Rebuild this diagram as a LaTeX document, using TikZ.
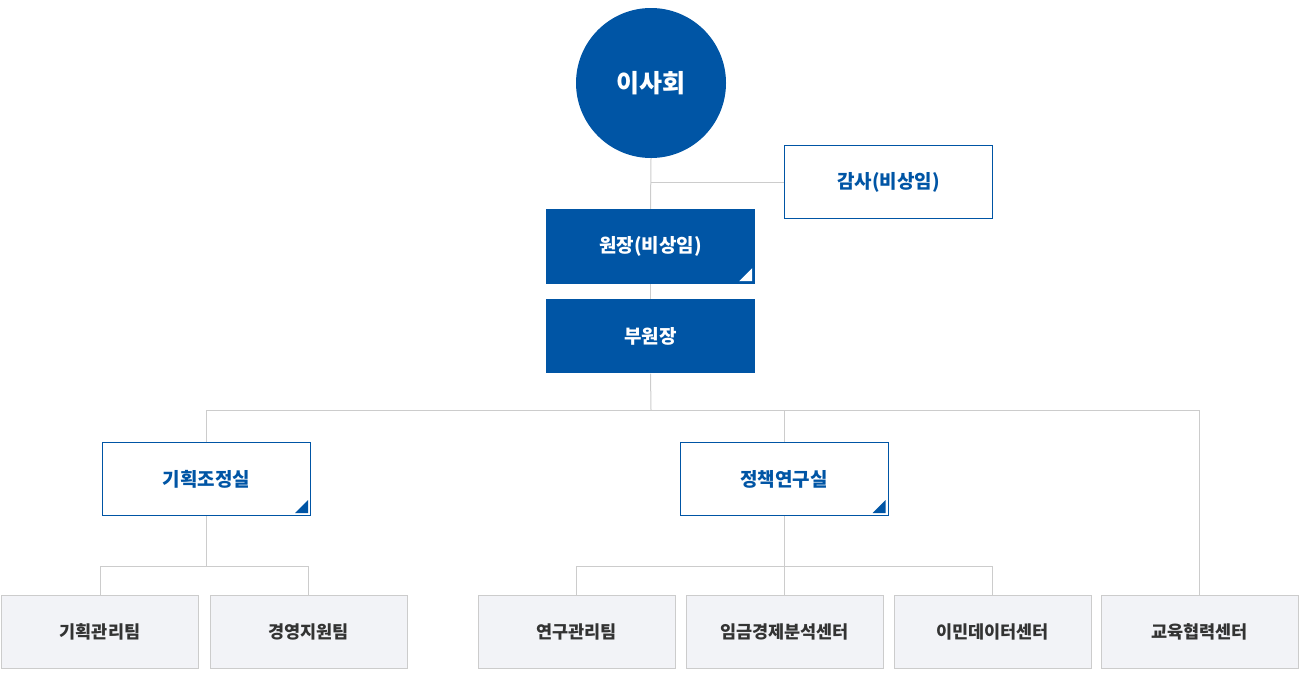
\documentclass[tikz,border=0pt]{standalone}
\usepackage{fontspec}
\setmainfont{Noto Sans CJK KR}
\usepackage{tikz}
\usetikzlibrary{positioning}

\definecolor{orgblue}{RGB}{0,85,165}
\definecolor{linegray}{RGB}{204,204,204}
\definecolor{teamfill}{RGB}{242,243,247}
\definecolor{teamtext}{RGB}{51,51,51}

% small corner triangle inside a box
\newcommand{\cornermark}[2]{%
  \fill[#2] ([shift={(-3pt,3pt)}]#1.south east) -- ++(-13pt,0pt) -- ++(13pt,13pt) -- cycle;}

\begin{document}
\begin{tikzpicture}[x=1pt, y=-1pt,
            board/.style={circle, fill=orgblue, minimum size=150pt, inner sep=0pt, text=white, font=\bfseries\fontsize{25}{30}\selectfont},
            exec/.style={rectangle, fill=orgblue, minimum width=209pt, minimum height=75pt, inner sep=0pt, text=white, font=\bfseries\fontsize{19}{23}\selectfont},
            office/.style={rectangle, draw=orgblue, fill=white, line width=1pt, minimum width=208pt, minimum height=73pt, inner sep=0pt, text=orgblue, font=\bfseries\fontsize{19}{23}\selectfont},
            team/.style={rectangle, draw=linegray, fill=teamfill, line width=1pt, minimum width=197pt, minimum height=73pt, inner sep=0pt, text=teamtext, font=\bfseries\fontsize{17.5}{21}\selectfont},
            link/.style={draw=linegray, line width=1pt},
            node distance=15pt
        ]
        \useasboundingbox (0,0) rectangle (1300,680);

        \node[board] (board) at (651,83) {이사회};
        \node[office] (audit) at (888.5,182) {감사(비상임)};
        \node[exec] (president) at (650.5,246.5) {원장(비상임)};
        \node[exec, below=15pt of president, minimum height=74pt] (vice) {부원장};

        \node[office] (planning) at (206.5,479) {기획조정실};
        \node[office] (policy) at (784,479) {정책연구실};

        \node[team] (planmgmt) at (100,632) {기획관리팀};
        \node[team] (mgmtsupport) at (308.5,632) {경영지원팀};
        \node[team] (researchmgmt) at (576.5,632) {연구관리팀};
        \node[team] (wagecenter) at (784.5,632) {임금경제분석센터};
        \node[team] (migcenter) at (992.5,632) {이민데이터센터};
        \node[team] (educenter) at (1199.5,632) {교육협력센터};

        \coordinate (mainbus) at (651,410);
        \coordinate (planbus) at (206.5,566);
        \coordinate (policybus) at (784,566);

        % Connectors
        \draw[link] (board.south) -- (president.north);
        \draw[link] (audit.west) -- (audit.west -| board.south);
        \draw[link] (president.south) -- (vice.north);
        \draw[link] (vice.south) -- (mainbus);
        \draw[link] (planning.north) |- (mainbus);
        \draw[link] (educenter.north) |- (mainbus);
        \draw[link] (policy.north) -- (policy.north |- mainbus);

        \draw[link] (planning.south) -- (planbus);
        \draw[link] (planmgmt.north) |- (planbus);
        \draw[link] (mgmtsupport.north) |- (planbus);

        \draw[link] (policy.south) -- (policybus);
        \draw[link] (researchmgmt.north) |- (policybus);
        \draw[link] (migcenter.north) |- (policybus);
        \draw[link] (wagecenter.north) -- (wagecenter.north |- policybus);

        % Corner marks
        \cornermark{president}{white}
        \cornermark{planning}{orgblue}
        \cornermark{policy}{orgblue}

    \end{tikzpicture}
\end{document}
